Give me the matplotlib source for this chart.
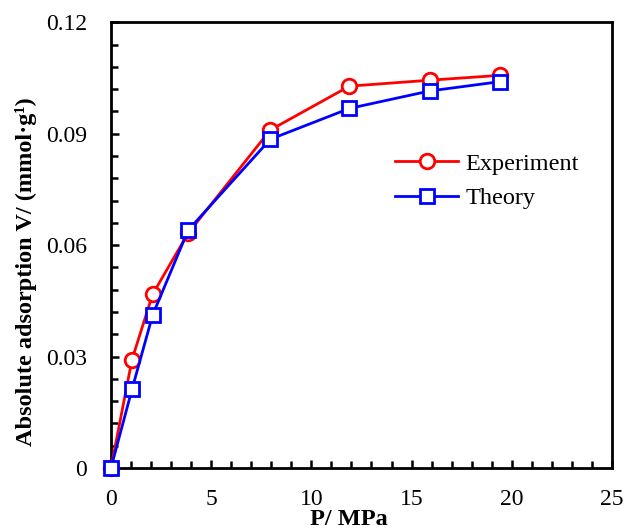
import matplotlib
matplotlib.use("Agg")
import matplotlib.pyplot as plt
from matplotlib.ticker import MultipleLocator, FuncFormatter

# pressure (MPa)
pressure = [0, 1.05, 2.08, 3.85, 7.95, 11.9, 15.9, 19.4]
# absolute adsorption (mmol/g)
experiment = [0, 0.0292, 0.0468, 0.0632, 0.0910, 0.1028, 0.1044, 0.1057]
theory = [0, 0.0212, 0.0412, 0.0640, 0.0885, 0.0968, 0.1015, 0.1040]

plt.rcParams['font.family'] = ['Liberation Serif', 'DejaVu Serif']

fig = plt.figure(figsize=(6.27, 5.30), dpi=100)
ax = fig.add_axes([0.177, 0.117, 0.799, 0.841])

ax.plot(pressure, experiment, color='red', lw=2, marker='o', ms=10.5,
        mfc='white', mec='red', mew=2, label='Experiment', clip_on=False, zorder=3)
ax.plot(pressure, theory, color='blue', lw=2, marker='s', ms=10.5,
        mfc='white', mec='blue', mew=2, label='Theory', clip_on=False, zorder=4)

ax.set_xlim(0, 25)
ax.set_ylim(0, 0.12)
ax.xaxis.set_major_locator(MultipleLocator(5))
ax.xaxis.set_minor_locator(MultipleLocator(1))
ax.yaxis.set_major_locator(MultipleLocator(0.03))
ax.yaxis.set_minor_locator(MultipleLocator(0.006))
ax.yaxis.set_major_formatter(FuncFormatter(lambda v, p: '0' if abs(v) < 1e-9 else f'{v:.2f}'))

ax.tick_params(which='both', direction='in', top=False, right=False, width=1.8,
               labelsize=17)
ax.tick_params(which='major', length=6)
ax.tick_params(which='minor', length=5)
ax.tick_params(axis='x', pad=15)
ax.tick_params(axis='y', pad=17)
for s in ax.spines.values():
    s.set_linewidth(2)

ax.set_xlabel('P/ MPa', fontsize=17.5, fontweight='bold')
ax.set_ylabel('Absolute adsorption V/ (mmol·g¹)', fontsize=17.5, fontweight='bold')
ax.yaxis.set_label_coords(-0.148, 0.44)
ax.xaxis.set_label_coords(0.475, -0.093)
ax.xaxis.label.set_verticalalignment('top')

ax.legend(loc='upper left', bbox_to_anchor=(0.567, 0.707), frameon=False,
          fontsize=17.5, handlelength=2.6, handletextpad=0.3, labelspacing=0.5,
          borderpad=0, borderaxespad=0)

fig.savefig('out.png', dpi=100)
